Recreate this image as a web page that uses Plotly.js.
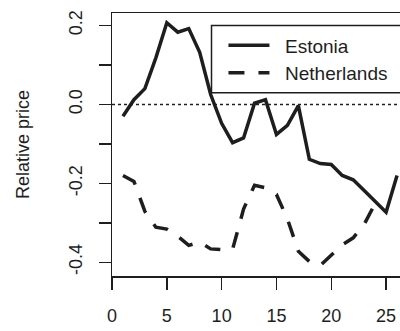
<!DOCTYPE html>
<html>
<head>
<meta charset="utf-8">
<script src="https://cdn.plot.ly/plotly-3.0.1.min.js"></script>
<style>html,body{margin:0;padding:0;background:#fff;}#chart{width:400px;height:331px;}</style>
</head>
<body>
<div id="chart"></div>
<script>
var periods = [1,2,3,4,5,6,7,8,9,10,11,12,13,14,15,16,17,18,19,20,21,22,23,24,25,26];
var estonia = [-0.030, 0.012, 0.040, 0.118, 0.207, 0.183, 0.192, 0.132, 0.025, -0.048,
               -0.097, -0.085, 0.003, 0.012, -0.076, -0.053, -0.003, -0.139, -0.150, -0.152,
               -0.180, -0.191, -0.218, -0.247, -0.273, -0.180];
var netherlands = [-0.180, -0.195, -0.271, -0.311, -0.316, -0.334, -0.357, -0.349, -0.366, -0.368,
                   -0.367, -0.265, -0.205, -0.211, -0.228, -0.290, -0.372, -0.398, -0.408, -0.382,
                   -0.356, -0.338, -0.304, -0.251];
var xTicks = [0,5,10,15,20,25];
var yTicks = [-0.4,-0.3,-0.2,-0.1,0.0,0.1,0.2];
var yTickText = ['-0.4','','-0.2','','0.0','','0.2'];
var seriesNames = ['Estonia','Netherlands'];

var FONT = 'Liberation Sans, Arial, Helvetica, sans-serif';
var INK = '#1e1e1e';
var GAP = '\u00a0\u00a0';

var traces = [
  {x: periods.slice(0, estonia.length), y: estonia, name: GAP + seriesNames[0], type: 'scatter', mode: 'lines',
   line: {color: INK, width: 3.5}},
  {x: periods.slice(0, netherlands.length), y: netherlands, name: GAP + seriesNames[1], type: 'scatter', mode: 'lines',
   line: {color: INK, width: 3.5, dash: '16px,14px'}}
];

var layout = {
  width: 400, height: 331,
  margin: {l: 112.3, r: 0, t: 12.5, b: 55.3, pad: 0},
  paper_bgcolor: '#fff', plot_bgcolor: '#fff',
  font: {family: FONT, size: 18, color: INK},
  showlegend: true,
  legend: {x: 0.387, y: 0.9495, xanchor: 'left', yanchor: 'top',
           bgcolor: 'rgba(0,0,0,0)', borderwidth: 0, itemwidth: 41,
           font: {family: FONT, size: 19, color: INK}},
  xaxis: {range: [0, 26.27], tickmode: 'array', tickvals: xTicks, ticktext: xTicks.map(String),
          ticks: 'outside', ticklen: 12, tickwidth: 1.5, tickcolor: INK,
          showline: true, linewidth: 1.5, linecolor: INK, mirror: true,
          showgrid: false, zeroline: false, ticklabelstandoff: 11,
          tickfont: {family: FONT, size: 18, color: INK}},
  yaxis: {range: [-0.4347, 0.2316], tickmode: 'array', tickvals: yTicks, ticktext: yTickText,
          tickangle: -90, ticks: 'outside', ticklen: 12, tickwidth: 1.5, tickcolor: INK,
          showline: true, linewidth: 1.5, linecolor: INK, mirror: false,
          showgrid: false, zeroline: false, ticklabelstandoff: 9,
          tickfont: {family: FONT, size: 18, color: INK},
          title: {text: 'Relative price', standoff: 32, font: {family: FONT, size: 18, color: INK}}},
  shapes: [
    {type: 'line', xref: 'paper', x0: 0, x1: 1, yref: 'y', y0: 0, y1: 0,
     line: {color: INK, width: 1.5, dash: 'dot'}, layer: 'below'},
    {type: 'rect', xref: 'paper', x0: 0.3455, x1: 1.05, yref: 'paper', y0: 0.6968, y1: 0.9525,
     fillcolor: '#fff', line: {color: INK, width: 1.5}, layer: 'above'}
  ]
};

Plotly.newPlot('chart', traces, layout, {staticPlot: true, displayModeBar: false});
</script>
</body>
</html>
